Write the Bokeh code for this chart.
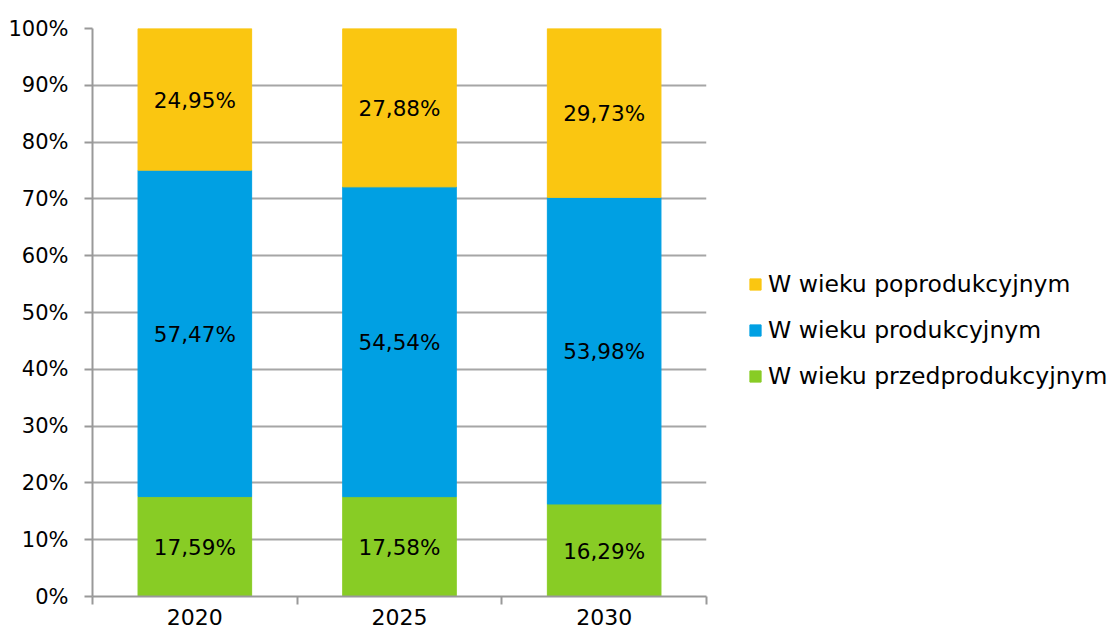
from bokeh.plotting import figure
from bokeh.models import (ColumnDataSource, FixedTicker, Legend, LegendItem,
                          NumeralTickFormatter, Range1d, LabelSet)
from bokeh.core.properties import value
from bokeh.embed import file_html
from bokeh.resources import INLINE

years = ["2020", "2025", "2030"]
przed = [17.59, 17.58, 16.29]
prod = [57.47, 54.54, 53.98]
popro = [24.95, 27.88, 29.73]
series_names = ["W wieku przedprodukcyjnym", "W wieku produkcyjnym", "W wieku poprodukcyjnym"]
colors = ["#88CC25", "#00A0E3", "#FAC611"]
FONT = "DejaVu Sans"

x = [i + 0.5 for i in range(len(years))]
b0 = [0.0] * 3
t0 = [a / 100 for a in przed]
t1 = [t0[i] + prod[i] / 100 for i in range(3)]
t2 = [t1[i] + popro[i] / 100 for i in range(3)]

src = ColumnDataSource(dict(x=x, b0=b0, t0=t0, t1=t1, t2=t2))

p = figure(frame_width=614, frame_height=568, output_backend="svg", toolbar_location=None,
           x_range=Range1d(0, 3), y_range=Range1d(0, 1),
           min_border_left=92, min_border_right=0, min_border_top=28, min_border_bottom=42)
p.outline_line_color = None
p.background_fill_color = "white"

r0 = p.vbar(x="x", bottom="b0", top="t0", width=0.555, color=colors[0], source=src)
r1 = p.vbar(x="x", bottom="t0", top="t1", width=0.555, color=colors[1], source=src)
r2 = p.vbar(x="x", bottom="t1", top="t2", width=0.555, color=colors[2], source=src)

# labels
lab_x, lab_y, lab_t = [], [], []
for i in range(3):
    for lo, hi, v in ((b0[i], t0[i], przed[i]), (t0[i], t1[i], prod[i]), (t1[i], t2[i], popro[i])):
        lab_x.append(x[i])
        lab_y.append((lo + min(hi, 1.0)) / 2)
        lab_t.append(("%.2f" % v).replace(".", ",") + "%")
lsrc = ColumnDataSource(dict(x=lab_x, y=lab_y, t=lab_t))
labels = LabelSet(x="x", y="y", text="t", source=lsrc, text_align="center",
                  text_baseline="middle", text_font=value(FONT), text_font_size="21.5px",
                  text_color="black", y_offset=-1)
p.add_layout(labels)

# y axis
p.yaxis.ticker = FixedTicker(ticks=[i / 10 for i in range(11)])
p.yaxis.formatter = NumeralTickFormatter(format="0%")
p.yaxis.major_label_text_font = FONT
p.yaxis.major_label_text_font_size = "21px"
p.yaxis.major_label_text_color = "black"
p.yaxis.axis_line_color = "#999999"
p.yaxis.axis_line_width = 2
p.yaxis.major_tick_line_color = "#999999"
p.yaxis.major_tick_line_width = 2
p.yaxis.major_tick_in = 0
p.yaxis.major_tick_out = 8
p.yaxis.minor_tick_line_color = None
p.yaxis.major_label_standoff = 16

# x axis
p.xaxis.ticker = FixedTicker(ticks=x, minor_ticks=[0, 1, 2, 3])
p.xaxis.major_label_overrides = {x[i]: years[i] for i in range(3)}
p.xaxis.major_label_text_font = FONT
p.xaxis.major_label_text_font_size = "22px"
p.xaxis.major_label_text_color = "black"
p.xaxis.axis_line_color = "#999999"
p.xaxis.axis_line_width = 2
p.xaxis.major_tick_line_color = None
p.xaxis.minor_tick_line_color = "#999999"
p.xaxis.minor_tick_line_width = 2
p.xaxis.minor_tick_in = 0
p.xaxis.minor_tick_out = 8
p.xaxis.major_label_standoff = 4

p.xgrid.grid_line_color = None
p.ygrid.grid_line_color = "#A6A6A6"
p.ygrid.grid_line_width = 2
p.ygrid.ticker = FixedTicker(ticks=[i / 10 for i in range(11)])

legend = Legend(items=[LegendItem(label=series_names[2], renderers=[r2]),
                       LegendItem(label=series_names[1], renderers=[r1]),
                       LegendItem(label=series_names[0], renderers=[r0])],
                location=(42, 206))
legend.border_line_color = None
legend.background_fill_alpha = 0
legend.margin = 0
legend.padding = 0
legend.glyph_width = 14
legend.glyph_height = 14
legend.label_standoff = 6
legend.spacing = 18
legend.label_text_font = FONT
legend.label_text_font_size = "23.5px"
legend.label_text_color = "black"
legend.label_height = 28
p.add_layout(legend, "right")

open("out.html", "w").write(file_html(p, INLINE))
